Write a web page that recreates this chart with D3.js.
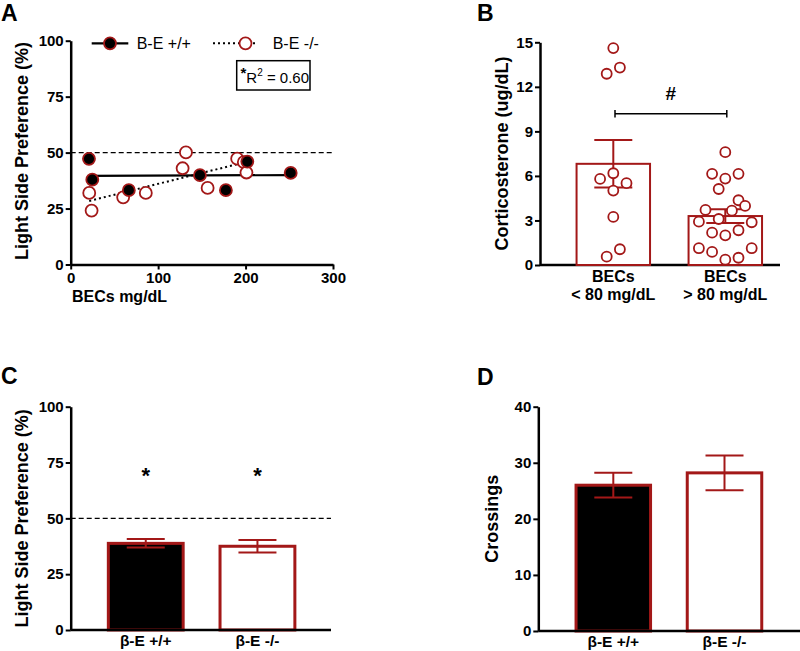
<!DOCTYPE html>
<html><head><meta charset="utf-8">
<script src="https://cdn.jsdelivr.net/npm/d3@7"></script>
<style>
body{margin:0;background:#fff}
svg{display:block}
text{font-family:Arial,"Liberation Sans",Helvetica,sans-serif}
</style>
</head><body>
<svg id="c" width="800" height="651"></svg>
<script>
// ---------- DATA ----------
// Panel A: BECs (mg/dL) vs light side preference (%)
const aWtBEC  = [20.9, 24.7, 66.5, 147.8, 177.5, 202, 251.6];
const aWtPref = [47.2, 37.9, 33.2, 39.9, 33.2, 46, 40.9];
const aKoBEC  = [21.2, 23.9, 60, 85.9, 128, 131.8, 156.6, 190.4, 198, 201];
const aKoPref = [32, 24.1, 30, 32, 43, 50.1, 34.2, 47.3, 45.7, 41.1];
const aXTicks = [0, 100, 200, 300];
const pctTicks = [0, 25, 50, 75, 100];
const aLegend = ["B-E +/+", "B-E -/-"];
const aR2 = "0.60";
const chance = 50;

// Panel B: corticosterone by BEC group
const bCategories = [["BECs", "< 80 mg/dL"], ["BECs", "> 80 mg/dL"]];
const bLow  = [14.61, 13.3, 12.88, 5.8, 6.18, 5.51, 5.01, 3.24, 1.06, 0.56];
const bHigh = [7.6, 6.14, 6.14, 5.82, 5.12, 4.36, 3.71, 3.66, 3.98, 2.92, 3.1, 2.88, 2.18, 2.34, 2.0, 1.13, 0.88, 1.13, 0.36, 0.49];
const bLowSlot  = [0, 1, -1, -2, 0, 2, 0, 0, 1, -1];
const bHighSlot = [0, -2, 2, 0, -1, 2, -3, 1, 3, -4, -1, 4, -2, 2, 0, -4, -2, 4, 0, 2];
const bTicks = [0, 3, 6, 9, 12, 15];

// Panel C: light side preference by genotype
const genotypes = ["β-E +/+", "β-E -/-"];
const cMean = [38.8, 37.5];
const cSem  = [1.9, 2.8];

// Panel D: crossings by genotype
const dMean = [26.0, 28.2];
const dSem  = [2.2, 3.1];
const dTicks = [0, 10, 20, 30, 40];

// ---------- DRAW ----------
const RED = "#a31818";
const FONT = 'Arial,"Liberation Sans",sans-serif';
const svg = d3.select("#c");
svg.append("rect").attr("width", 800).attr("height", 651).attr("fill", "#fff");

function panelLabel(t, x, y) {
  svg.append("text").attr("x", x).attr("y", y).text(t)
    .attr("font-size", 23).attr("font-weight", "bold");
}
function yAxis(scale, ticks, x) {
  const g = svg.append("g").attr("transform", `translate(${x},0)`)
    .call(d3.axisLeft(scale).tickValues(ticks).tickSize(5).tickSizeOuter(0).tickPadding(2));
  g.select(".domain").attr("stroke-width", 2.5).attr("stroke", "#000");
  g.selectAll(".tick line").attr("stroke-width", 2).attr("stroke", "#000");
  g.selectAll("text").attr("font-size", 15).attr("font-weight", "bold").attr("fill", "#000")
    .attr("font-family", FONT);
  return g;
}
function yLabel(t, x, y) {
  svg.append("text").attr("transform", `translate(${x},${y}) rotate(-90)`)
    .attr("text-anchor", "middle").attr("font-size", 18).attr("font-weight", "bold").text(t);
}
function hLine(x1, x2, y) {
  svg.append("line").attr("x1", x1).attr("x2", x2).attr("y1", y).attr("y2", y)
    .attr("stroke", "#000").attr("stroke-width", 2.5);
}

// ===== Panel A =====
panelLabel("A", 1, 21);
const ax = d3.scaleLinear().domain([0, 300]).range([70.7, 333]);
const ay = d3.scaleLinear().domain([0, 100]).range([264.5, 40.7]);
yAxis(ay, pctTicks, 70.7);
{
  const g = svg.append("g").attr("transform", `translate(0,${ay(0)})`)
    .call(d3.axisBottom(ax).tickValues(aXTicks).tickSize(5).tickSizeOuter(0).tickPadding(3));
  g.select(".domain").attr("stroke-width", 2.5);
  g.selectAll(".tick line").attr("stroke-width", 2);
  g.selectAll("text").attr("font-size", 15).attr("font-weight", "bold").attr("fill", "#000")
    .attr("font-family", FONT);
}
yLabel("Light Side Preference (%)", 28, 151);
svg.append("text").attr("x", 72).attr("y", 302).attr("font-size", 16).attr("font-weight", "bold").text("BECs mg/dL");
svg.append("line").attr("x1", ax(0)).attr("x2", ax(300)).attr("y1", ay(chance)).attr("y2", ay(chance))
  .attr("stroke", "#000").attr("stroke-width", 1.3).attr("stroke-dasharray", "5,3");

function fit(xs, ys) {
  const mx = d3.mean(xs), my = d3.mean(ys);
  let sxy = 0, sxx = 0;
  xs.forEach((x, i) => { sxy += (x - mx) * (ys[i] - my); sxx += (x - mx) ** 2; });
  const b = sxy / sxx, a = my - b * mx;
  const x0 = d3.min(xs), x1 = d3.max(xs);
  return [[x0, a + b * x0], [x1, a + b * x1]];
}
const line = d3.line().x(d => ax(d[0])).y(d => ay(d[1]));
svg.append("path").attr("d", line(fit(aKoBEC, aKoPref))).attr("fill", "none")
  .attr("stroke", "#000").attr("stroke-width", 2).attr("stroke-dasharray", "2,3");
svg.append("path").attr("d", line(fit(aWtBEC, aWtPref))).attr("fill", "none")
  .attr("stroke", "#000").attr("stroke-width", 2.2);
svg.append("g").selectAll("circle").data(aKoBEC.map((x, i) => [x, aKoPref[i]])).join("circle")
  .attr("cx", d => ax(d[0])).attr("cy", d => ay(d[1])).attr("r", 6)
  .attr("fill", "#fff").attr("stroke", RED).attr("stroke-width", 1.8);
svg.append("g").selectAll("circle").data(aWtBEC.map((x, i) => [x, aWtPref[i]])).join("circle")
  .attr("cx", d => ax(d[0])).attr("cy", d => ay(d[1])).attr("r", 6)
  .attr("fill", "#000").attr("stroke", RED).attr("stroke-width", 1.8);
// legend
svg.append("line").attr("x1", 91.7).attr("x2", 128.3).attr("y1", 43.3).attr("y2", 43.3).attr("stroke", "#000").attr("stroke-width", 2.2);
svg.append("circle").attr("cx", 110).attr("cy", 43.3).attr("r", 6).attr("fill", "#000").attr("stroke", RED).attr("stroke-width", 1.8);
svg.append("text").attr("x", 136.7).attr("y", 49).attr("font-size", 16).text(aLegend[0]);
svg.append("line").attr("x1", 213).attr("x2", 258).attr("y1", 43.3).attr("y2", 43.3).attr("stroke", "#000").attr("stroke-width", 2).attr("stroke-dasharray", "2,3");
svg.append("circle").attr("cx", 245.5).attr("cy", 43.3).attr("r", 6).attr("fill", "#fff").attr("stroke", RED).attr("stroke-width", 1.8);
svg.append("text").attr("x", 272.7).attr("y", 49).attr("font-size", 16).text(aLegend[1]);
// R2 box
svg.append("rect").attr("x", 236.7).attr("y", 60.7).attr("width", 73.3).attr("height", 29.3)
  .attr("fill", "#fff").attr("stroke", "#000").attr("stroke-width", 1.5);
{
  const t = svg.append("text").attr("x", 240.5).attr("y", 83).attr("font-size", 15);
  t.append("tspan").attr("font-size", 15).attr("font-weight", "bold").attr("dy", -5).text("*");
  t.append("tspan").attr("dy", 5).text("R");
  t.append("tspan").attr("font-size", 10).attr("dy", -7).text("2");
  t.append("tspan").attr("dy", 7).text(" = " + aR2);
}

// ===== Panel B =====
panelLabel("B", 477, 21);
const by = d3.scaleLinear().domain([0, 15]).range([265, 42.3]);
const bx = d3.scaleBand().domain([0, 1]).range([557.3, 781.3]).paddingInner(0.344).paddingOuter(0.172);
yAxis(by, bTicks, 540);
hLine(540, 780, by(0));
yLabel("Corticosterone (ug/dL)", 508, 153.5);
const bGroups = [bLow, bHigh], bSlots = [bLowSlot, bHighSlot];
bGroups.forEach((vals, i) => {
  const m = d3.mean(vals), sem = d3.deviation(vals) / Math.sqrt(vals.length);
  const x0 = bx(i), w = bx.bandwidth(), cx = x0 + w / 2;
  svg.append("rect").attr("x", x0).attr("y", by(m)).attr("width", w).attr("height", by(0) - by(m))
    .attr("fill", "#fff").attr("stroke", RED).attr("stroke-width", 2);
  const eg = svg.append("g").attr("stroke", RED).attr("stroke-width", 2);
  eg.append("line").attr("x1", cx).attr("x2", cx).attr("y1", by(m + sem)).attr("y2", by(m - sem));
  eg.append("line").attr("x1", cx - 19).attr("x2", cx + 19).attr("y1", by(m + sem)).attr("y2", by(m + sem));
  eg.append("line").attr("x1", cx - 19).attr("x2", cx + 19).attr("y1", by(m - sem)).attr("y2", by(m - sem));
  svg.append("g").selectAll("circle").data(vals).join("circle")
    .attr("cx", (d, j) => cx + bSlots[i][j] * 6.6).attr("cy", d => by(d)).attr("r", 5)
    .attr("fill", "#fff").attr("stroke", RED).attr("stroke-width", 1.8);
  const t = svg.append("text").attr("text-anchor", "middle").attr("font-size", 16).attr("font-weight", "bold");
  t.append("tspan").attr("x", cx).attr("y", 282).text(bCategories[i][0]);
  t.append("tspan").attr("x", cx).attr("y", 299.5).text(bCategories[i][1]);
});
{
  const x1 = bx(0) + bx.bandwidth() / 2 + 1.7, x2 = bx(1) + bx.bandwidth() / 2 + 1.5, yb = 113.7;
  const g = svg.append("g").attr("stroke", "#000").attr("stroke-width", 1.5);
  g.append("line").attr("x1", x1).attr("x2", x2).attr("y1", yb).attr("y2", yb);
  g.append("line").attr("x1", x1).attr("x2", x1).attr("y1", 110).attr("y2", 117.5);
  g.append("line").attr("x1", x2).attr("x2", x2).attr("y1", 110).attr("y2", 117.5);
  svg.append("text").attr("x", (x1 + x2) / 2).attr("y", 100).attr("text-anchor", "middle")
    .attr("font-size", 19).attr("font-weight", "bold").text("#");
}

// ===== bar panels C & D =====
function barPanel(means, sems, ys, ticks, axX0, axX1, rng, label, labelX) {
  const xs = d3.scaleBand().domain(genotypes).range(rng).paddingInner(0.33).paddingOuter(0.165);
  yAxis(ys, ticks, axX0);
  means.forEach((m, i) => {
    const x0 = xs(genotypes[i]), w = xs.bandwidth(), cx = x0 + w / 2;
    svg.append("rect").attr("x", x0).attr("y", ys(m)).attr("width", w).attr("height", ys(0) - ys(m))
      .attr("fill", i === 0 ? "#000" : "#fff").attr("stroke", RED).attr("stroke-width", 3);
    const eg = svg.append("g").attr("stroke", RED).attr("stroke-width", 2);
    const s = sems[i];
    eg.append("line").attr("x1", cx).attr("x2", cx).attr("y1", ys(m + s)).attr("y2", ys(m - s));
    eg.append("line").attr("x1", cx - 19).attr("x2", cx + 19).attr("y1", ys(m + s)).attr("y2", ys(m + s));
    eg.append("line").attr("x1", cx - 19).attr("x2", cx + 19).attr("y1", ys(m - s)).attr("y2", ys(m - s));
  });
  hLine(axX0, axX1, ys(0));
  const g = svg.append("g").attr("transform", `translate(0,${ys(0)})`)
    .call(d3.axisBottom(xs).tickSize(0).tickPadding(5));
  g.select(".domain").remove();
  g.selectAll("text").attr("font-size", 15.5).attr("font-weight", "bold").attr("fill", "#000")
    .attr("font-family", FONT);
  yLabel(label, labelX, (ys.range()[0] + ys.range()[1]) / 2);
  return xs;
}

panelLabel("C", 1, 384);
const cy = d3.scaleLinear().domain([0, 100]).range([630, 406.7]);
svg.append("line").attr("x1", 70.7).attr("x2", 331).attr("y1", cy(chance)).attr("y2", cy(chance))
  .attr("stroke", "#000").attr("stroke-width", 1.3).attr("stroke-dasharray", "5,3");
const cx = barPanel(cMean, cSem, cy, pctTicks, 70.7, 331, [89.9, 313.3], "Light Side Preference (%)", 28);
genotypes.forEach(gn => {
  svg.append("text").attr("x", cx(gn) + cx.bandwidth() / 2).attr("y", 483).attr("text-anchor", "middle")
    .attr("font-size", 22).attr("font-weight", "bold").text("*");
});

panelLabel("D", 477, 385);
const dy = d3.scaleLinear().domain([0, 40]).range([631, 406.7]);
barPanel(dMean, dSem, dy, dTicks, 538.3, 800, [557.7, 780.1], "Crossings", 498);
</script>
</body></html>
